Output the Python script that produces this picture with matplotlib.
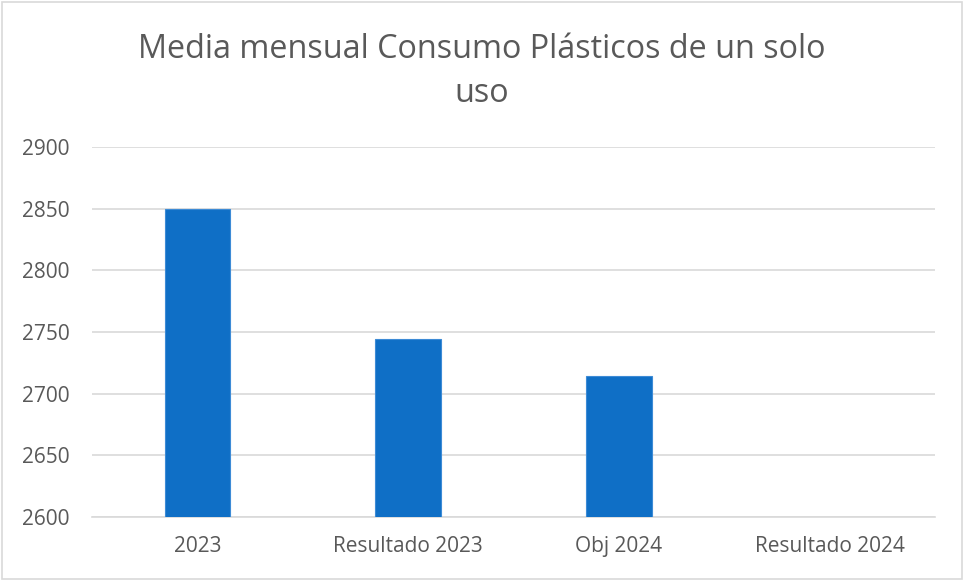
import numpy as np
import matplotlib.pyplot as plt
from matplotlib.patches import Rectangle

# Data
categories = ['2023', 'Resultado 2023', 'Obj 2024', 'Resultado 2024']
values = [2850, 2744, 2714, np.nan]

plt.rcParams['font.family'] = ['Open Sans', 'DejaVu Sans']

fig = plt.figure(figsize=(9.64, 5.8), dpi=100)
ax = fig.add_axes([0.0954, 0.1086, 0.8746, 0.638])

x = np.arange(len(categories))
ax.bar(x, values, width=0.31, color='#0F6FC6', edgecolor='#3D8BD6', linewidth=0.8, zorder=3)

ax.set_xlim(-0.5, len(categories) - 0.5)
ax.set_ylim(2600, 2900)
ax.set_yticks(np.arange(2600, 2901, 50))
ax.set_xticks(x, categories)

ax.grid(axis='y', color='#D9D9D9', linewidth=1.2, zorder=0)
for s in ['top', 'right', 'left']:
    ax.spines[s].set_visible(False)
ax.spines['bottom'].set_color('#D9D9D9')
ax.spines['bottom'].set_linewidth(1.2)
ax.tick_params(axis='both', length=0, labelsize=15, colors='#595959')
ax.tick_params(axis='y', pad=16)
ax.tick_params(axis='x', pad=14)

fig.text(0.5, 0.877, 'Media mensual Consumo Plásticos de un solo\nuso', ha='center', va='center',
         fontsize=23.3, color='#595959', linespacing=1.45)

# outer chart border
fig.patches.append(Rectangle((0.002, 0.002), 0.996, 0.994, transform=fig.transFigure,
                             fill=False, edgecolor='#D9D9D9', linewidth=1.2))

plt.savefig('out.png', dpi=100)
